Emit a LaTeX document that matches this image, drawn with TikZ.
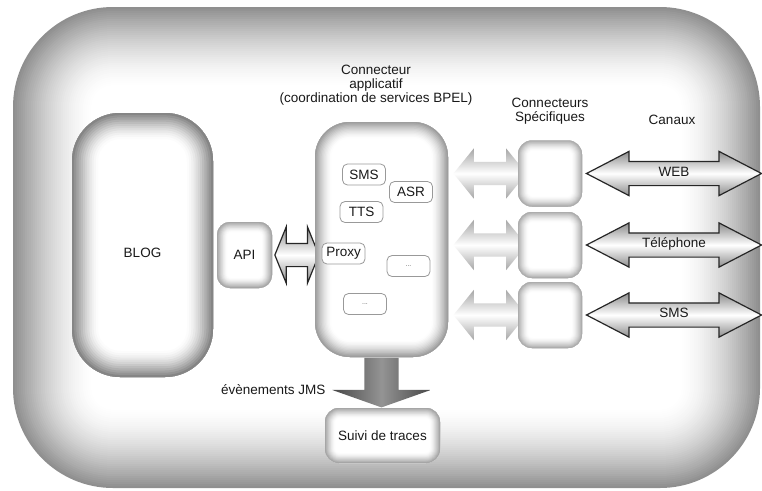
\documentclass[tikz,border=0pt]{standalone}
\usepackage{fontspec}
\setmainfont{Liberation Sans}
\usetikzlibrary{shapes.arrows,positioning,calc}

\pgfdeclarelayer{bg}
\pgfdeclarelayer{links}
\pgfsetlayers{bg,links,main}

\tikzset{
  % box with a soft grey rim inside (radius, darkness, rim width)
  glowbox/.style n args={3}{
    rectangle, rounded corners=#1, fill=white, inner sep=0pt,
    path picture={
      \foreach \k in {1,...,12} {
        \pgfmathsetmacro\glowlw{2*#3*(13-\k)/12}
        \pgfmathsetmacro\glowpct{#2*(\k/12)^1.5}
        \draw[black!\glowpct, line width=\glowlw pt, rounded corners=#1]
          (path picture bounding box.south west) rectangle (path picture bounding box.north east);
      }
    }
  },
  smallbox/.style={draw=black!40, line width=0.8pt, fill=white, rounded corners=5pt,
    minimum width=43pt, minimum height=21pt, inner sep=0pt},
  dotsbox/.style={smallbox, font=\fontsize{7}{8}\selectfont, text=black!60},
  chanarrow/.style={double arrow, draw=black!85, line width=1.2pt,
    top color=black!45, bottom color=black!45, middle color=white,
    double arrow head extend=10pt, double arrow tip angle=55,
    minimum height=175pt, inner xsep=2pt, inner ysep=5pt,
    text height=9pt, text depth=4pt},
  apiarrow/.style={chanarrow, double arrow head extend=16.5pt,
    double arrow tip angle=136, minimum height=44pt, inner sep=11pt,
    text height=0pt, text depth=0pt},
  lightarrow/.style={double arrow, draw=none,
    top color=black!35, bottom color=black!35, middle color=white,
    double arrow head extend=13.5pt, double arrow tip angle=102,
    minimum height=73pt, inner sep=11.5pt},
  jmsarrow/.style={single arrow, shape border rotate=270, draw=none,
    left color=black!72, right color=black!72, middle color=black!42,
    single arrow head extend=32pt, single arrow tip angle=141,
    minimum height=50pt, inner sep=17pt}
}

\begin{document}
\begin{tikzpicture}[
  x=1pt, y=-1pt,
  font=\fontsize{13.5}{14}\selectfont,
  text=black!90
]
\useasboundingbox (0,0) rectangle (762,490);

% outer frame
\begin{pgfonlayer}{bg}
\foreach \i in {0,...,40} {
  \pgfmathsetmacro\d{2*\i}
  \pgfmathsetmacro\pct{44*(1-\i/40)^1.6}
  \pgfmathsetmacro\r{100-\d}
  \fill[black!\pct, rounded corners=\r pt] (13+\d,7+\d) rectangle (760-\d,488-\d);
}
\end{pgfonlayer}

\node[glowbox={48pt}{48}{26}, minimum width=141pt, minimum height=264pt,
  text height=25.7pt, text depth=0pt] (blog) at (142.5,245) {BLOG};
\node[glowbox={13pt}{35}{10}, minimum width=55pt, minimum height=66pt] (api) at (244.5,255) {API};
\node[glowbox={35pt}{38}{16}, minimum width=133pt, minimum height=235pt] (main) at (381.5,239.5) {};
\node[glowbox={14pt}{35}{10}, minimum width=115pt, minimum height=55pt] (suivi) at (382.5,435.5) {Suivi de traces};

\node[smallbox] (sms) at (364,174.5) {SMS};
\node[smallbox] (asr) at (411,192) {ASR};
\node[smallbox] (tts) at (361.5,212) {TTS};
\node[smallbox] (proxy) at (343.5,253.5) {Proxy};
\node[dotsbox] (etc1) at (408.5,266) {...};
\node[dotsbox] (etc2) at (365,304) {...};

\node[glowbox={14pt}{32}{10}, minimum width=64pt, minimum height=66pt] (spec1) at (550,173.5) {};
\node[glowbox={14pt}{32}{10}, minimum width=64pt, minimum height=66pt] (spec2) at (550,245) {};
\node[glowbox={14pt}{32}{10}, minimum width=64pt, minimum height=66pt] (spec3) at (550,315) {};

\node[align=center] (title) at (376,85) {Connecteur\\applicatif\\(coordination de services BPEL)};
\node[align=center] (spectitle) at (550,111) {Connecteurs\\Spécifiques};
\node (canaux) at (672,120) {Canaux};
\node[anchor=east] (jmstxt) at (329,390) {évènements JMS};

% arrows under the boxes
\begin{pgfonlayer}{links}
\node[apiarrow, anchor=west, xshift=2pt] (apilink) at (api.east) {};
\foreach \s in {1,2,3}
  \node[lightarrow, anchor=west, xshift=5pt] (link\s) at (main.east |- spec\s.center) {};
\node[chanarrow, anchor=west, xshift=3pt] (web) at (spec1.east) {WEB};
\node[chanarrow, anchor=west, xshift=3pt] (tel) at (spec2.east) {Téléphone};
\node[chanarrow, anchor=west, xshift=3pt] (smsc) at (spec3.east) {SMS};
\node[jmsarrow, anchor=tail] (jms) at (main.south) {};
\end{pgfonlayer}

\end{tikzpicture}
\end{document}
